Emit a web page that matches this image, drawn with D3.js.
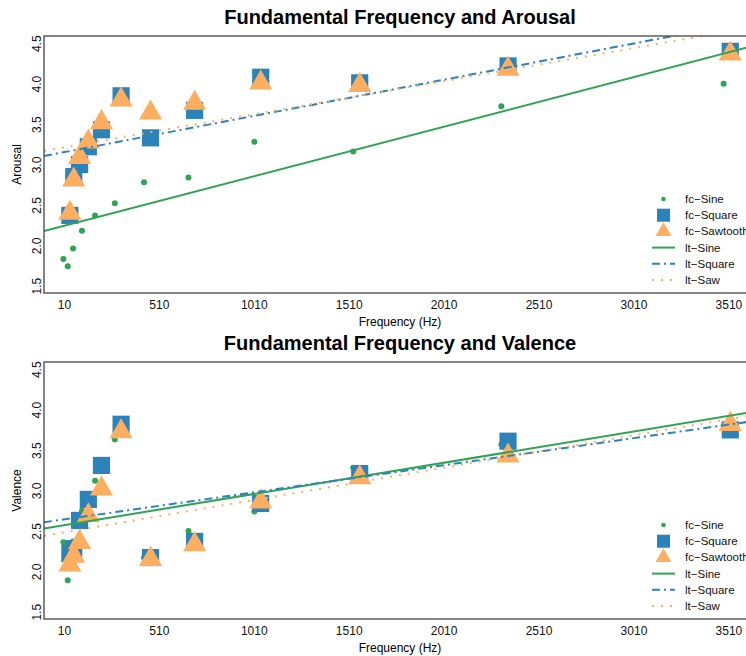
<!DOCTYPE html>
<html>
<head>
<meta charset="utf-8">
<script src="https://cdn.jsdelivr.net/npm/d3@7"></script>
<style>
body { margin: 0; background: #fff; }
svg { display: block; font-family: "Liberation Sans", Arial, Helvetica, sans-serif; }
</style>
</head>
<body>
<div id="chart"></div>
<script>
const width = 746;
const height = 656;

// pitches of the square / sawtooth stimuli (Hz)
const toneFreqs = [41.2, 61.7, 92.5, 138.6, 207.7, 311.1, 466.2, 698.5, 1046.5, 1568, 2349.3, 3520];
// sine points are drawn a bit to the left of the others
const sineFreqs = [7, 30, 58, 105, 174, 278, 432, 666, 1013, 1534, 2314, 3485];

const xTicks = [10, 510, 1010, 1510, 2010, 2510, 3010, 3510];
const yTicks = [1.5, 2.0, 2.5, 3.0, 3.5, 4.0, 4.5];

const arousalSine = [1.83, 1.74, 1.96, 2.18, 2.37, 2.52, 2.78, 2.84, 3.28, 3.16, 3.72, 4.00];
const arousalSquare = [2.37, 2.85, 3.00, 3.22, 3.43, 3.85, 3.33, 3.67, 4.08, 4.01, 4.22, 4.40];
const arousalSaw = [2.40, 2.81, 3.09, 3.28, 3.52, 3.80, 3.64, 3.76, 4.01, 3.98, 4.18, 4.37];

const valenceSine = [2.36, 1.89, 2.37, 2.75, 3.12, 3.63, 2.17, 2.50, 2.74, 3.28, 3.57, 3.80];
const valenceSquare = [2.22, 2.28, 2.63, 2.89, 3.31, 3.82, 2.17, 2.37, 2.84, 3.21, 3.61, 3.75];
const valenceSaw = [2.08, 2.19, 2.36, 2.69, 3.02, 3.73, 2.15, 2.33, 2.86, 3.16, 3.43, 3.82];

// fitted lines as [intercept, slope] : sine, square, saw
const arousalFits = [[2.235, 0.000613], [3.148, 0.000448], [3.209, 0.000409]];
const valenceFits = [[2.567, 0.000386], [2.639, 0.000335], [2.478, 0.000400]];

const legendLabels = ["fc\u2212Sine", "fc\u2212Square", "fc\u2212Sawtooth", "lt\u2212Sine", "lt\u2212Square", "lt\u2212Saw"];

const green = "#31a354", blue = "#2b83ba", orange = "#fdae61";

const panels = [
    { title: "Fundamental Frequency and Arousal", ylab: "Arousal", top: 36,
      sine: arousalSine, square: arousalSquare, saw: arousalSaw, fits: arousalFits },
    { title: "Fundamental Frequency and Valence", ylab: "Valence", top: 362,
      sine: valenceSine, square: valenceSquare, saw: valenceSaw, fits: valenceFits }
];

const plotLeft = 44, plotRight = 758, plotH = 257;

const svg = d3.select("#chart").append("svg")
    .attr("width", width)
    .attr("height", height);

const x = d3.scaleLinear().domain([-95, 3666]).range([plotLeft, plotRight]);

const lineStyles = [
    { color: green, dash: null },
    { color: blue, dash: "8,4,2,4" },
    { color: orange, dash: "2,7" }
];

panels.forEach((p, i) => {
    const y = d3.scaleLinear().domain([1.41, 4.59]).range([p.top + plotH, p.top]);
    const g = svg.append("g");

    g.append("clipPath").attr("id", "clip" + i)
        .append("rect")
        .attr("x", plotLeft).attr("y", p.top)
        .attr("width", plotRight - plotLeft).attr("height", plotH);

    const plot = g.append("g").attr("clip-path", `url(#clip${i})`);

    // sine points
    plot.selectAll(".sine").data(p.sine).enter().append("circle")
        .attr("cx", (d, k) => x(sineFreqs[k]))
        .attr("cy", d => y(d))
        .attr("r", 3)
        .attr("fill", green);

    // square points
    plot.selectAll(".sq").data(p.square).enter().append("path")
        .attr("d", d3.symbol(d3.symbolSquare, 295))
        .attr("transform", (d, k) => `translate(${x(toneFreqs[k])},${y(d)})`)
        .attr("fill", blue);

    // sawtooth points
    plot.selectAll(".tri").data(p.saw).enter().append("path")
        .attr("d", d3.symbol(d3.symbolTriangle, 232))
        .attr("transform", (d, k) => `translate(${x(toneFreqs[k])},${y(d)})`)
        .attr("fill", orange);

    // fitted lines
    const xr = x.domain();
    p.fits.forEach((f, k) => {
        plot.append("line")
            .attr("x1", x(xr[0])).attr("y1", y(f[0] + f[1] * xr[0]))
            .attr("x2", x(xr[1])).attr("y2", y(f[0] + f[1] * xr[1]))
            .attr("stroke", lineStyles[k].color)
            .attr("stroke-width", 2)
            .attr("stroke-dasharray", lineStyles[k].dash);
    });

    // box
    g.append("rect")
        .attr("x", plotLeft).attr("y", p.top)
        .attr("width", plotRight - plotLeft).attr("height", plotH)
        .attr("fill", "none")
        .attr("stroke", "#444")
        .attr("stroke-width", 1.3);

    // axes (no tick marks, like the original)
    const xAxis = g.append("g")
        .attr("transform", `translate(0,${p.top + plotH})`)
        .call(d3.axisBottom(x).tickValues(xTicks).tickSize(0).tickPadding(7).tickFormat(d3.format("d")));
    xAxis.select(".domain").remove();
    xAxis.selectAll("text").attr("font-size", 12).attr("font-family", null).attr("fill", "#111");

    const yAxis = g.append("g")
        .attr("transform", `translate(${plotLeft},0)`)
        .call(d3.axisLeft(y).tickValues(yTicks).tickSize(0).tickFormat(d3.format(".1f")));
    yAxis.select(".domain").remove();
    yAxis.selectAll("text")
        .attr("x", null).attr("dy", null)
        .attr("text-anchor", "middle")
        .attr("transform", "translate(-3,0) rotate(-90)")
        .attr("font-size", 12).attr("font-family", null).attr("fill", "#111");

    // titles
    g.append("text")
        .attr("x", 400).attr("y", p.top - 12)
        .attr("text-anchor", "middle")
        .attr("font-size", 20).attr("font-weight", "bold")
        .text(p.title);

    g.append("text")
        .attr("x", 400).attr("y", p.top + plotH + 33)
        .attr("text-anchor", "middle")
        .attr("font-size", 12)
        .text("Frequency (Hz)");

    g.append("text")
        .attr("transform", `translate(21,${p.top + plotH / 2}) rotate(-90)`)
        .attr("text-anchor", "middle")
        .attr("font-size", 12)
        .text(p.ylab);

    // legend
    const leg = g.append("g").attr("transform", `translate(0,${p.top + 163})`);
    legendLabels.forEach((lab, k) => {
        const ly = k * 16.2;
        const cx = 663.5;
        if (k === 0) {
            leg.append("circle").attr("cx", cx).attr("cy", ly).attr("r", 2.3).attr("fill", green);
        } else if (k === 1) {
            leg.append("path").attr("d", d3.symbol(d3.symbolSquare, 170))
                .attr("transform", `translate(${cx},${ly})`).attr("fill", blue);
        } else if (k === 2) {
            leg.append("path").attr("d", d3.symbol(d3.symbolTriangle, 110))
                .attr("transform", `translate(${cx},${ly})`).attr("fill", orange);
        } else {
            const st = lineStyles[k - 3];
            leg.append("line")
                .attr("x1", 652).attr("x2", 675).attr("y1", ly).attr("y2", ly)
                .attr("stroke", st.color).attr("stroke-width", 2)
                .attr("stroke-dasharray", st.dash);
        }
        leg.append("text")
            .attr("x", 685).attr("y", ly + 4)
            .attr("font-size", 11.5)
            .attr("fill", "#111")
            .text(lab);
    });
});
</script>
</body>
</html>
